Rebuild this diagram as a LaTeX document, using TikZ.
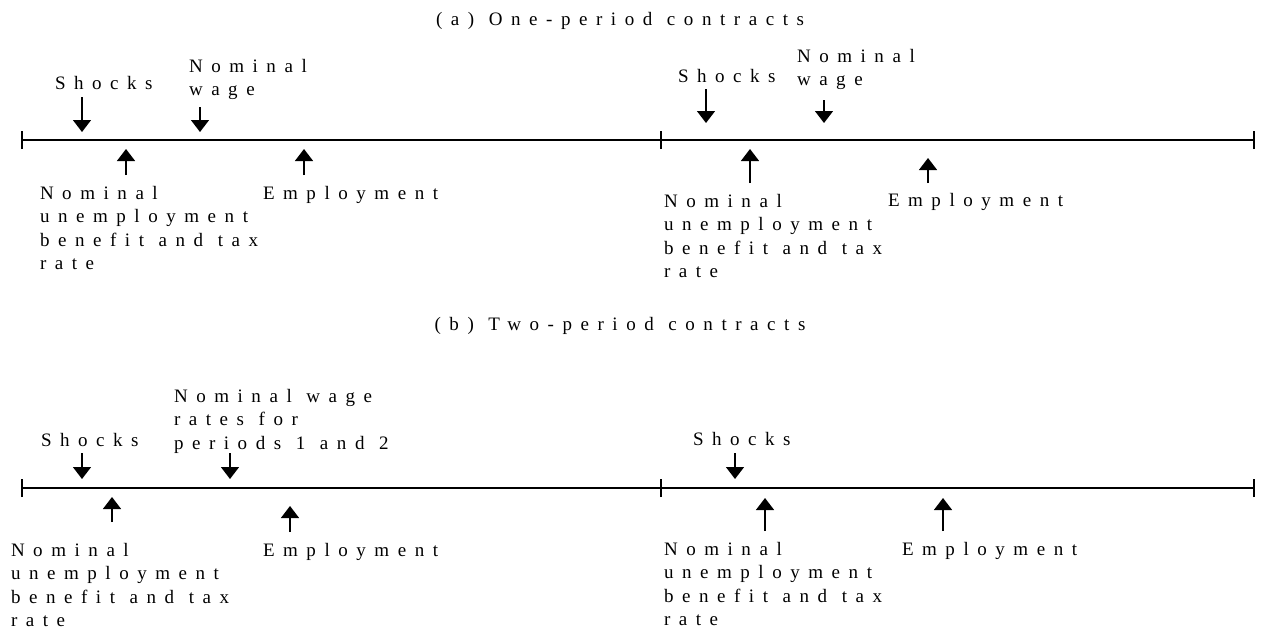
\documentclass[tikz,border=0pt]{standalone}
\usepackage{fontspec}
\setmainfont[LetterSpace=45,WordSpace=1.1,Ligatures=NoCommon]{Liberation Serif}
\usetikzlibrary{arrows.meta}
\begin{document}
\begin{tikzpicture}[x=1pt,y=-1pt,
  lbl/.style={inner sep=0pt,outer sep=0pt,font=\fontsize{19}{23.5}\selectfont,align=left},
  ttl/.style={inner sep=0pt,outer sep=0pt,font=\fontsize{19}{23.5}\selectfont},
  tline/.style={line width=2pt},
  tickmark/.style={line width=1.8pt},
  evarrow/.style={line width=1.4pt,-{Triangle[width=18pt,length=12pt]}}]
\useasboundingbox (0,0) rectangle (1281,635);

% ---------- titles ----------
\node[ttl,anchor=base] (ta) at (620,25) {(a) One-period contracts};
\node[ttl,anchor=base] (tb) at (620,330) {(b) Two-period contracts};

% ---------- timeline (a) ----------
\coordinate (a0) at (22,140);
\coordinate (a1) at (661,140);
\coordinate (a2) at (1254,140);
\draw[tline] (a0) -- (a2);
\foreach \p in {a0,a1,a2} \draw[tickmark] ([yshift=-9pt]\p) -- ([yshift=9pt]\p);

% left period (a)
\node[lbl,anchor=base west] (as1) at (55,89) {Shocks};
\node[lbl,anchor=north west] (aw1) at (189,59) {Nominal\\wage};
\node[lbl,anchor=north west] (au1) at (40,186) {Nominal\\unemployment\\benefit and tax\\rate};
\node[lbl,anchor=base west] (ae1) at (263,199) {Employment};
\coordinate (as1s) at (82,97);  \coordinate (as1e) at (82,132);
\coordinate (aw1s) at (200,107); \coordinate (aw1e) at (200,132);
\coordinate (au1s) at (126,175); \coordinate (au1e) at (126,149);
\coordinate (ae1s) at (304,175); \coordinate (ae1e) at (304,149);
\draw[evarrow] (as1s) -- (as1e);
\draw[evarrow] (aw1s) -- (aw1e);
\draw[evarrow] (au1s) -- (au1e);
\draw[evarrow] (ae1s) -- (ae1e);

% right period (a)
\node[lbl,anchor=base west] (as2) at (678,82) {Shocks};
\node[lbl,anchor=north west] (aw2) at (797,49) {Nominal\\wage};
\node[lbl,anchor=north west] (au2) at (664,194) {Nominal\\unemployment\\benefit and tax\\rate};
\node[lbl,anchor=base west] (ae2) at (888,206) {Employment};
\coordinate (as2s) at (706,89);  \coordinate (as2e) at (706,123);
\coordinate (aw2s) at (824,100); \coordinate (aw2e) at (824,123);
\coordinate (au2s) at (750,183); \coordinate (au2e) at (750,149);
\coordinate (ae2s) at (928,183); \coordinate (ae2e) at (928,158);
\draw[evarrow] (as2s) -- (as2e);
\draw[evarrow] (aw2s) -- (aw2e);
\draw[evarrow] (au2s) -- (au2e);
\draw[evarrow] (ae2s) -- (ae2e);

% ---------- timeline (b) ----------
\coordinate (b0) at (22,488);
\coordinate (b1) at (661,488);
\coordinate (b2) at (1254,488);
\draw[tline] (b0) -- (b2);
\foreach \p in {b0,b1,b2} \draw[tickmark] ([yshift=-9pt]\p) -- ([yshift=9pt]\p);

% left period (b)
\node[lbl,anchor=base west] (bs1) at (41,446) {Shocks};
\node[lbl,anchor=north west] (bw1) at (174,389) {Nominal wage\\rates for\\periods 1 and 2};
\node[lbl,anchor=north west] (bu1) at (11,543) {Nominal\\unemployment\\benefit and tax\\rate};
\node[lbl,anchor=base west] (be1) at (263,556) {Employment};
\coordinate (bs1s) at (82,453);  \coordinate (bs1e) at (82,479);
\coordinate (bw1s) at (230,453); \coordinate (bw1e) at (230,479);
\coordinate (bu1s) at (112,522); \coordinate (bu1e) at (112,497);
\coordinate (be1s) at (290,532); \coordinate (be1e) at (290,506);
\draw[evarrow] (bs1s) -- (bs1e);
\draw[evarrow] (bw1s) -- (bw1e);
\draw[evarrow] (bu1s) -- (bu1e);
\draw[evarrow] (be1s) -- (be1e);

% right period (b)
\node[lbl,anchor=base west] (bs2) at (693,445) {Shocks};
\node[lbl,anchor=north west] (bu2) at (664,542) {Nominal\\unemployment\\benefit and tax\\rate};
\node[lbl,anchor=base west] (be2) at (902,555) {Employment};
\coordinate (bs2s) at (735,453); \coordinate (bs2e) at (735,479);
\coordinate (bu2s) at (765,531); \coordinate (bu2e) at (765,498);
\coordinate (be2s) at (943,531); \coordinate (be2e) at (943,498);
\draw[evarrow] (bs2s) -- (bs2e);
\draw[evarrow] (bu2s) -- (bu2e);
\draw[evarrow] (be2s) -- (be2e);
\end{tikzpicture}
\end{document}
